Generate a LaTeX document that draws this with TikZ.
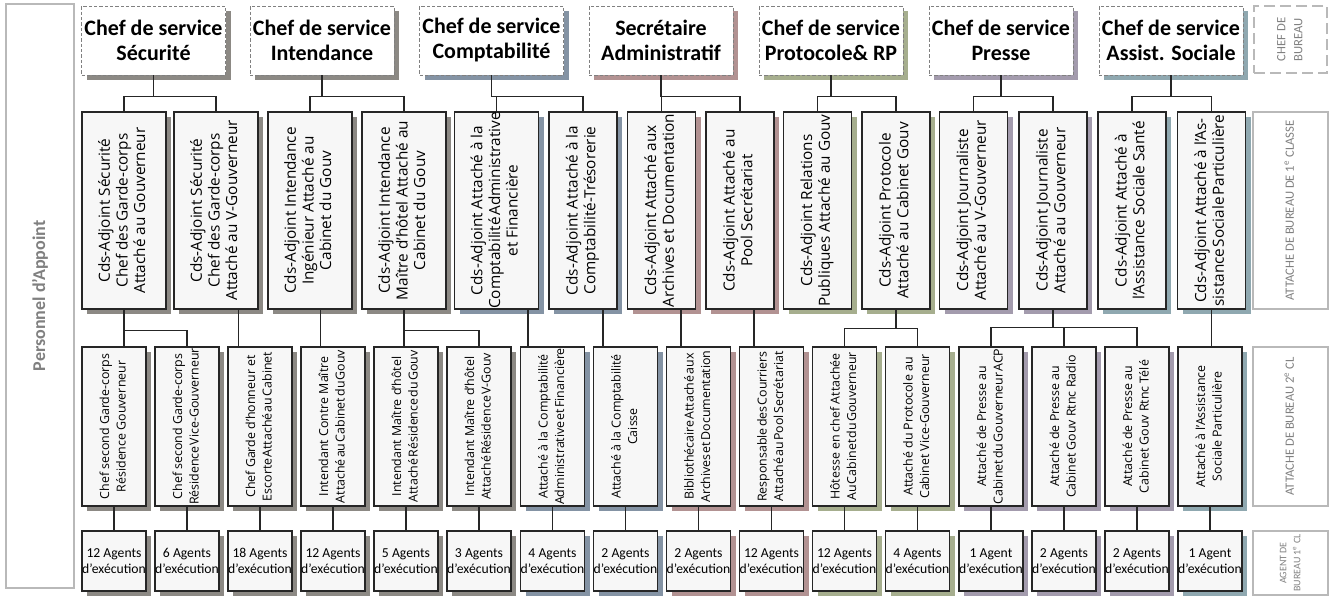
\documentclass[tikz,border=0pt]{standalone}
\usepackage{fontspec}
\setmainfont{Carlito}
\newfontfamily\opensans{Open Sans}
\usepackage{graphicx}
\usetikzlibrary{shadows}

\definecolor{boxfill}{RGB}{247,247,247}
\definecolor{shgray}{RGB}{140,137,132}
\definecolor{shblue}{RGB}{132,147,164}
\definecolor{shrose}{RGB}{178,146,146}
\definecolor{sholive}{RGB}{166,174,142}
\definecolor{shpurple}{RGB}{163,155,173}
\definecolor{shteal}{RGB}{143,168,176}
\definecolor{labelgray}{RGB}{128,128,128}

\newcommand{\vlines}[1]{\rotatebox{90}{\begin{tabular}{@{}c@{}}#1\end{tabular}}}
\newcommand{\tight}[1]{{\spaceskip=0.1em\relax #1}}

\begin{document}
\begin{tikzpicture}[x=0.75pt, y=-0.75pt,
    ombre/.style={drop shadow={shadow xshift=4pt, shadow yshift=-4pt, opacity=1, fill=#1}},
    chef/.style={draw=gray, dash pattern=on 2.5pt off 1.5pt, fill=white, inner sep=0pt,
        minimum width=108pt, minimum height=51.75pt, align=center,
        font=\fontsize{16.5}{18.75}\selectfont\bfseries},
    cds/.style={draw=black!85, line width=0.8pt, fill=boxfill, inner sep=0pt,
        minimum width=51pt, minimum height=147.75pt,
        font=\opensans\fontsize{11.5}{13.2}\selectfont},
    cdslarge/.style={cds, minimum width=63pt},
    attache/.style={draw=black!85, line width=0.8pt, fill=boxfill, inner sep=0pt,
        minimum width=48pt, minimum height=119.25pt,
        font=\opensans\fontsize{9.3}{12.5}\selectfont},
    agents/.style={draw=black!85, line width=0.8pt, fill=boxfill, inner sep=0pt,
        minimum width=48pt, minimum height=45pt, align=center,
        font=\fontsize{10.25}{12.5}\selectfont},
    niveau/.style={draw=gray!55, line width=1.4pt, fill=white, inner sep=0pt,
        text=labelgray, font=\fontsize{9.5}{12.75}\selectfont},
    lien/.style={draw=black!85, line width=1pt}]

    \useasboundingbox (0,0) rectangle (1336,596);

    % Personnel d'Appoint on the left
    \node[niveau, minimum width=51pt, minimum height=438pt] (perso) at (40,296)
        {\rotatebox{90}{\bfseries\fontsize{13.5}{16}\selectfont Personnel d’Appoint}};

    % Chefs de service (dashed boxes)
    \node[chef, ombre=shgray] (h1) at (153.5,40.5) {Chef de service\\Sécurité};
    \node[chef, ombre=shgray] (h2) at (322,40.5) {Chef de service\\Intendance};
    \node[chef, ombre=shblue] (h3) at (491.5,40.5) {Chef de service\\Comptabilité};
    \node[chef, ombre=shrose] (h4) at (661,40.5) {Secrétaire\\Administratif};
    \node[chef, ombre=sholive] (h5) at (831,40.5) {Chef de service\\Protocole\& RP};
    \node[chef, ombre=shpurple] (h6) at (1001,40.5) {Chef de service\\Presse};
    \node[chef, ombre=shteal] (h7) at (1171,40.5) {Chef de service\\Assist. Sociale};

    % Cds-Adjoints
    \node[cdslarge, ombre=shgray] (a1) at (124,210.5) {\vlines{Cds-Adjoint Sécurité\\Chef des Garde-corps\\Attaché au Gouverneur}};
    \node[cdslarge, ombre=shgray] (a2) at (216,210.5) {\vlines{Cds-Adjoint Sécurité\\Chef des Garde-corps\\Attaché au V-Gouverneur}};
    \node[cdslarge, ombre=shgray] (a3) at (310,210.5) {\vlines{Cds-Adjoint Intendance\\Ingénieur Attaché au\\Cabinet du Gouv}};
    \node[cdslarge, ombre=shgray] (a4) at (404,210.5) {\vlines{Cds-Adjoint Intendance\\Maître d’hôtel Attaché au\\Cabinet du Gouv}};
    \node[cdslarge, ombre=shblue] (a5) at (496.5,210.5) {\vlines{Cds-Adjoint Attaché à la\\\tight{Comptabilité Administrative}\\et Financière}};
    \node[cds, ombre=shblue] (a6) at (583,210.5) {\vlines{Cds-Adjoint Attaché à la\\Comptabilité-Trésorerie}};
    \node[cds, ombre=shrose] (a7) at (661.5,210.5) {\vlines{Cds-Adjoint Attaché aux\\Archives et Documentation}};
    \node[cds, ombre=shrose] (a8) at (740,210.5) {\vlines{Cds-Adjoint Attaché au\\Pool Secrétariat}};
    \node[cds, ombre=sholive] (a9) at (817.5,210.5) {\vlines{Cds-Adjoint Relations\\Publiques Attaché au Gouv}};
    \node[cds, ombre=sholive] (a10) at (896,210.5) {\vlines{Cds-Adjoint Protocole\\Attaché au Cabinet Gouv}};
    \node[cds, ombre=shpurple] (a11) at (973.5,210.5) {\vlines{Cds-Adjoint Journaliste\\Attaché au V-Gouverneur}};
    \node[cds, ombre=shpurple] (a12) at (1053,210.5) {\vlines{Cds-Adjoint Journaliste\\Attaché au Gouverneur}};
    \node[cds, ombre=shteal] (a13) at (1132,210.5) {\vlines{Cds-Adjoint Attaché à\\l’Assistance Sociale Santé}};
    \node[cds, ombre=shteal] (a14) at (1211.5,210.5) {\vlines{Cds-Adjoint Attaché à l’As-\\\tight{sistance Sociale Particulière}}};

    % Attaches 2e classe
    \node[attache, ombre=shgray] (c1) at (114,426.5) {\vlines{Chef second Garde-corps\\Résidence Gouverneur}};
    \node[attache, ombre=shgray] (c2) at (187,426.5) {\vlines{Chef second Garde-corps\\\tight{Résidence Vice-Gouverneur}}};
    \node[attache, ombre=shgray] (c3) at (260,426.5) {\vlines{Chef Garde d’honneur et\\\tight{Escorte Attaché au Cabinet}}};
    \node[attache, ombre=shgray] (c4) at (333,426.5) {\vlines{Intendant Contre Maître\\\tight{Attaché au Cabinet du Gouv}}};
    \node[attache, ombre=shgray] (c5) at (406,426.5) {\vlines{Intendant Maître d’hôtel\\\tight{Attaché Résidence du Gouv}}};
    \node[attache, ombre=shgray] (c6) at (479,426.5) {\vlines{Intendant Maître d’hôtel\\\tight{Attaché Résidence V-Gouv}}};
    \node[attache, ombre=shblue] (c7) at (552.5,426.5) {\vlines{Attaché à la Comptabilité\\\tight{Administrative et Financière}}};
    \node[attache, ombre=shblue] (c8) at (625.5,426.5) {\vlines{Attaché à la Comptabilité\\Caisse}};
    \node[attache, ombre=shrose] (c9) at (698.5,426.5) {\vlines{\tight{Bibliothécaire Attaché aux}\\\tight{Archives et Documentation}}};
    \node[attache, ombre=shrose] (c10) at (771.5,426.5) {\vlines{\tight{Responsable des Courriers}\\\tight{Attaché au Pool Secrétariat}}};
    \node[attache, ombre=sholive] (c11) at (844.5,426.5) {\vlines{Hôtesse en chef Attachée\\\tight{Au Cabinet du Gouverneur}}};
    \node[attache, ombre=sholive] (c12) at (917.5,426.5) {\vlines{Attaché du Protocole au\\Cabinet Vice-Gouverneur}};
    \node[attache, ombre=shpurple] (c13) at (991,426.5) {\vlines{Attaché de Presse au\\\tight{Cabinet du Gouverneur ACP}}};
    \node[attache, ombre=shpurple] (c14) at (1064,426.5) {\vlines{Attaché de Presse au\\Cabinet Gouv Rtnc Radio}};
    \node[attache, ombre=shpurple] (c15) at (1137,426.5) {\vlines{Attaché de Presse au\\Cabinet Gouv Rtnc Télé}};
    \node[attache, ombre=shteal] (c16) at (1210,426.5) {\vlines{Attaché à l’Assistance\\Sociale Particulière}};

    % Agents d'execution
    \node[agents, ombre=shgray] (d1) at (114,561) {12 Agents\\d’exécution};
    \node[agents, ombre=shgray] (d2) at (187,561) {6 Agents\\d’exécution};
    \node[agents, ombre=shgray] (d3) at (260,561) {18 Agents\\d’exécution};
    \node[agents, ombre=shgray] (d4) at (333,561) {12 Agents\\d’exécution};
    \node[agents, ombre=shgray] (d5) at (406,561) {5 Agents\\d’exécution};
    \node[agents, ombre=shgray] (d6) at (479,561) {3 Agents\\d’exécution};
    \node[agents, ombre=shblue] (d7) at (552.5,561) {4 Agents\\d’exécution};
    \node[agents, ombre=shblue] (d8) at (625.5,561) {2 Agents\\d’exécution};
    \node[agents, ombre=shrose] (d9) at (698.5,561) {2 Agents\\d’exécution};
    \node[agents, ombre=shrose] (d10) at (771.5,561) {12 Agents\\d’exécution};
    \node[agents, ombre=sholive] (d11) at (844.5,561) {12 Agents\\d’exécution};
    \node[agents, ombre=sholive] (d12) at (917.5,561) {4 Agents\\d’exécution};
    \node[agents, ombre=shpurple] (d13) at (991,561) {1 Agent\\d’exécution};
    \node[agents, ombre=shpurple] (d14) at (1064,561) {2 Agents\\d’exécution};
    \node[agents, ombre=shpurple] (d15) at (1137,561) {2 Agents\\d’exécution};
    \node[agents, ombre=shteal] (d16) at (1210,561) {1 Agent\\d’exécution};

    % Grades on the right
    \node[niveau, dash pattern=on 8pt off 4pt, minimum width=54.75pt, minimum height=50.25pt] (grade1) at (1290.5,39.5) {\vlines{CHEF DE\\BUREAU}};
    \node[niveau, minimum width=56.25pt, minimum height=147.75pt] (grade2) at (1290.5,210.5) {\vlines{ATTACHE DE BUREAU DE 1\textsuperscript{e} CLASSE}};
    \node[niveau, minimum width=56.25pt, minimum height=119.25pt] (grade3) at (1290.5,426.5) {\vlines{ATTACHE DE BUREAU 2\textsuperscript{e} CL}};
    \node[niveau, minimum width=56.25pt, minimum height=48pt, font=\fontsize{7.5}{10.5}\selectfont] (grade4) at (1290.5,563) {\vlines{AGENT DE\\BUREAU 1\textsuperscript{e} CL}};

    % Chefs de service to Cds-Adjoints
    \draw[lien] (h1.south) -- ++(0,21) -| (a1.north);
    \draw[lien] (h1.south) -- ++(0,21) -| (a2.north);
    \draw[lien] (h2.south) -- ++(0,21) -| (a3.north);
    \draw[lien] (h2.south) -- ++(0,21) -| (a4.north);
    \draw[lien] (h3.south) -- ++(0,21) -| (a5.north);
    \draw[lien] (h3.south) -- ++(0,21) -| (a6.north);
    \draw[lien] (h4.south) -- ++(0,21) -| (a7.north);
    \draw[lien] (h4.south) -- ++(0,21) -| (a8.north);
    \draw[lien] (h5.south) -- ++(0,21) -| (a9.north);
    \draw[lien] (h5.south) -- ++(0,21) -| (a10.north);
    \draw[lien] (h6.south) -- ++(0,21) -| (a11.north);
    \draw[lien] (h6.south) -- ++(0,21) -| (a12.north);
    \draw[lien] (h7.south) -- ++(0,21) -| (a13.north);
    \draw[lien] (h7.south) -- ++(0,21) -| (a14.north);

    % Cds-Adjoints to attaches
    \draw[lien] (a1.south) -- (a1.south |- c1.north);
    \draw[lien] (a1.south) -- ++(0,21) -| (c2.north);
    \draw[lien] ([xshift=17pt]a2.south) -- ([xshift=17pt]a2.south |- c3.north);
    \draw[lien] ([xshift=8pt]a3.south) -- ([xshift=8pt]a3.south |- c4.north);
    \draw[lien] (a4.south) -- (a4.south |- c5.north);
    \draw[lien] (a4.south) -- ++(0,21) -| (c6.north);
    \draw[lien] ([xshift=23.5pt]a5.south) -- ([xshift=23.5pt]a5.south |- c7.north);
    \draw[lien] ([xshift=15pt]a6.south) -- ([xshift=15pt]a6.south |- c8.north);
    \draw[lien] ([xshift=14.5pt]a7.south) -- ([xshift=14.5pt]a7.south |- c9.north);
    \draw[lien] ([xshift=10.5pt]a8.south) -- ([xshift=10.5pt]a8.south |- c10.north);
    \draw[lien] (a10.south) -- ++(0,19) -| (c11.north);
    \draw[lien] (a10.south) -- ++(0,19) -| (c12.north);
    \draw[lien] (a12.south) -- ++(0,18) -| (c13.north);
    \draw[lien] (a12.south) -- ++(0,18) -| (c14.north);
    \draw[lien] (a12.south) -- ++(0,18) -| (c15.north);
    \draw[lien] (a14.south) -- (a14.south |- c16.north);

    % attaches to agents
    \draw[lien] (c1.south) -- (d1.north);
    \draw[lien] (c2.south) -- (d2.north);
    \draw[lien] (c3.south) -- (d3.north);
    \draw[lien] (c4.south) -- (d4.north);
    \draw[lien] (c5.south) -- (d5.north);
    \draw[lien] (c6.south) -- (d6.north);
    \draw[lien] (c7.south) -- (d7.north);
    \draw[lien] (c8.south) -- (d8.north);
    \draw[lien] (c9.south) -- (d9.north);
    \draw[lien] (c10.south) -- (d10.north);
    \draw[lien] (c11.south) -- (d11.north);
    \draw[lien] (c12.south) -- (d12.north);
    \draw[lien] (c13.south) -- (d13.north);
    \draw[lien] (c14.south) -- (d14.north);
    \draw[lien] (c15.south) -- (d15.north);
    \draw[lien] (c16.south) -- (d16.north);

\end{tikzpicture}
\end{document}
